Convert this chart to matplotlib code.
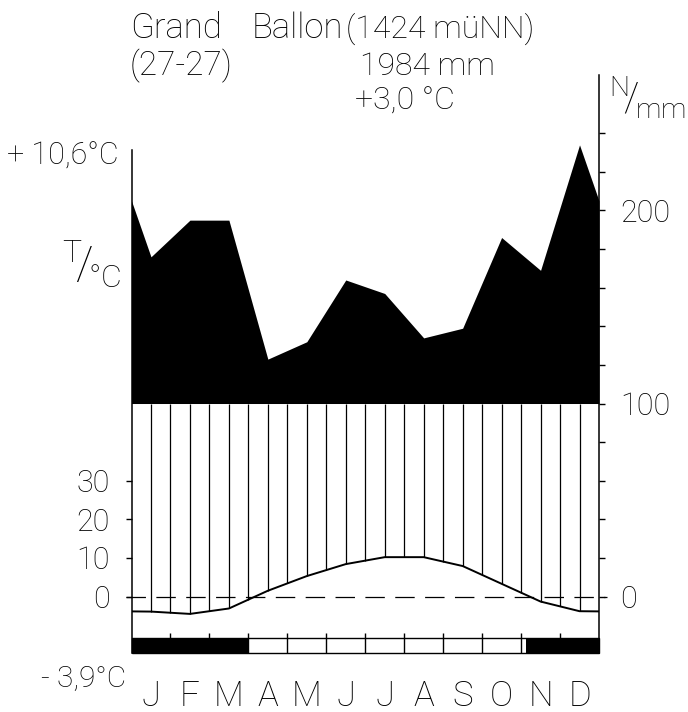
"""
Klimadiagramm nach Walter/Lieth — Grand Ballon (1424 m ü. NN)
"""

import matplotlib
matplotlib.use("Agg")
import matplotlib.pyplot as plt
from matplotlib.patches import Rectangle
import numpy as np

plt.rcParams["font.family"] = ["Roboto", "DejaVu Sans"]
plt.rcParams["font.weight"] = "light"
plt.rcParams["mathtext.fontset"] = "custom"
plt.rcParams["mathtext.rm"] = "Roboto:light"
plt.rcParams["lines.scale_dashes"] = False

# ============================================================
# Daten
# ============================================================
months = ["J", "F", "M", "A", "M", "J", "J", "A", "S", "O", "N", "D"]
temp = [-3.9, -4.5, -3.1, 1.5, 5.3, 8.4, 10.2, 10.2, 7.9, 3.3, -1.3, -3.8]   # °C
prec = [176, 195, 195, 123, 132, 164, 157, 134, 139, 186, 169, 234]          # mm
frost = [(0, 3), (10.13, 12)]          # Monate mit mittl. Minimum < 0 °C
temp_ticks = [0, 10, 20, 30]
prec_ticks = list(range(0, 241, 20))
prec_labels = ["0", "", "", "", "", "100", "", "", "", "", "200", "", ""]

# 10 °C = 20 mm
T2MM = 2.0

# Kurven an Monatsmitten, Enden am Jahreswechsel gemittelt
xc = np.concatenate([[0], np.arange(12) + 0.5, [12]])
t_wrap = (temp[0] + temp[-1]) / 2
p_wrap = (prec[0] + prec[-1]) / 2
t_ext = np.array([t_wrap] + temp + [t_wrap]) * T2MM
p_ext = np.array([p_wrap] + prec + [p_wrap])

# ============================================================
# Figur
# ============================================================
W, H = 688, 712
fig = plt.figure(figsize=(W / 100, H / 100), dpi=100)


def fx(x):
    return x / W


def fy(y):
    return 1 - y / H


ax = fig.add_axes([fx(131.5), fy(652.7), (599 - 131.5) / W, (652.7 - 75) / H])
y_lo, y_hi = -29.1, 270.2
ax.set_xlim(0, 12)
ax.set_ylim(y_lo, y_hi)

# Niederschlag > 100 mm schwarz
ax.fill_between(xc, 100, np.maximum(p_ext, 100), color="black", lw=0)

# Schraffur (humide Zeit) alle halben Monate
xh = np.arange(0.5, 12, 0.5)
ax.vlines(xh, np.interp(xh, xc, t_ext), np.minimum(np.interp(xh, xc, p_ext), 100),
          color="black", lw=0.9)

# Temperaturkurve
ax.plot(xc, t_ext, color="black", lw=1.4)

# Nulllinie gestrichelt
ax.axhline(0, xmin=-0.012, xmax=1.018, color="black", lw=0.9,
           dashes=(14, 7.5), clip_on=False)

# Frostbalken unten
bar_lo, bar_hi = y_lo, -21.7
ax.add_patch(Rectangle((0, bar_lo), 12, bar_hi - bar_lo, fill=False,
                       lw=1.0, ec="black", clip_on=False))
for a, b in frost:
    ax.add_patch(Rectangle((a, bar_lo), b - a, bar_hi - bar_lo,
                           color="black", lw=0, clip_on=False))
ax.vlines(np.arange(1, 12), bar_lo, bar_hi + 2.8, color="black", lw=1.0)

# Achsen
for s in ["top", "bottom", "right"]:
    ax.spines[s].set_visible(False)
ax.spines["left"].set_bounds(bar_lo, 231.3)
ax.spines["left"].set_linewidth(1.1)
ax.set_yticks([t * T2MM for t in temp_ticks], [str(t) for t in temp_ticks])
ax.tick_params(axis="y", direction="out", length=4.5, width=1.0,
               labelsize=22, pad=11)
ax.set_xticks(np.arange(12) + 0.5, months)
ax.tick_params(axis="x", length=0, pad=19, labelsize=25)

ax2 = ax.twinx()
ax2.set_ylim(y_lo, y_hi)
for s in ["top", "bottom", "left"]:
    ax2.spines[s].set_visible(False)
ax2.spines["right"].set_bounds(bar_lo, y_hi)
ax2.spines["right"].set_linewidth(1.1)
ax2.set_yticks(prec_ticks, prec_labels)
ax2.tick_params(axis="y", direction="out", length=4.5, width=1.0,
                labelsize=22, pad=11)

# ============================================================
# Beschriftung
# ============================================================
big = 23
fig.text(fx(130), fy(38), "Grand", fontsize=25, va="baseline")
fig.text(fx(252), fy(38), "Ballon", fontsize=25, va="baseline")
fig.text(fx(346), fy(38), "(1424 müNN)", fontsize=big, va="baseline")
fig.text(fx(130), fy(75), "(27-27)", fontsize=24, va="baseline")
fig.text(fx(360), fy(75), "1984 mm", fontsize=big, va="baseline")
fig.text(fx(355), fy(110), "+3,0 °C", fontsize=big, va="baseline")

fig.text(fx(7), fy(165), "+ 10,6°C", fontsize=22, va="baseline")
fig.text(fx(41), fy(687), "- 3,9°C", fontsize=21.5, va="baseline")

# T/°C und N/mm als Bruch
fig.text(fx(62), fy(280), r"$^{\mathrm{T}}\!/_{\!\mathrm{°C}}$", fontsize=33,
         va="baseline")
fig.text(fx(609), fy(112), r"$^{\mathrm{N}}\!/_{\!\mathrm{mm}}$", fontsize=29,
         va="baseline")

fig.savefig("out.png", dpi=100)
plt.close(fig)
